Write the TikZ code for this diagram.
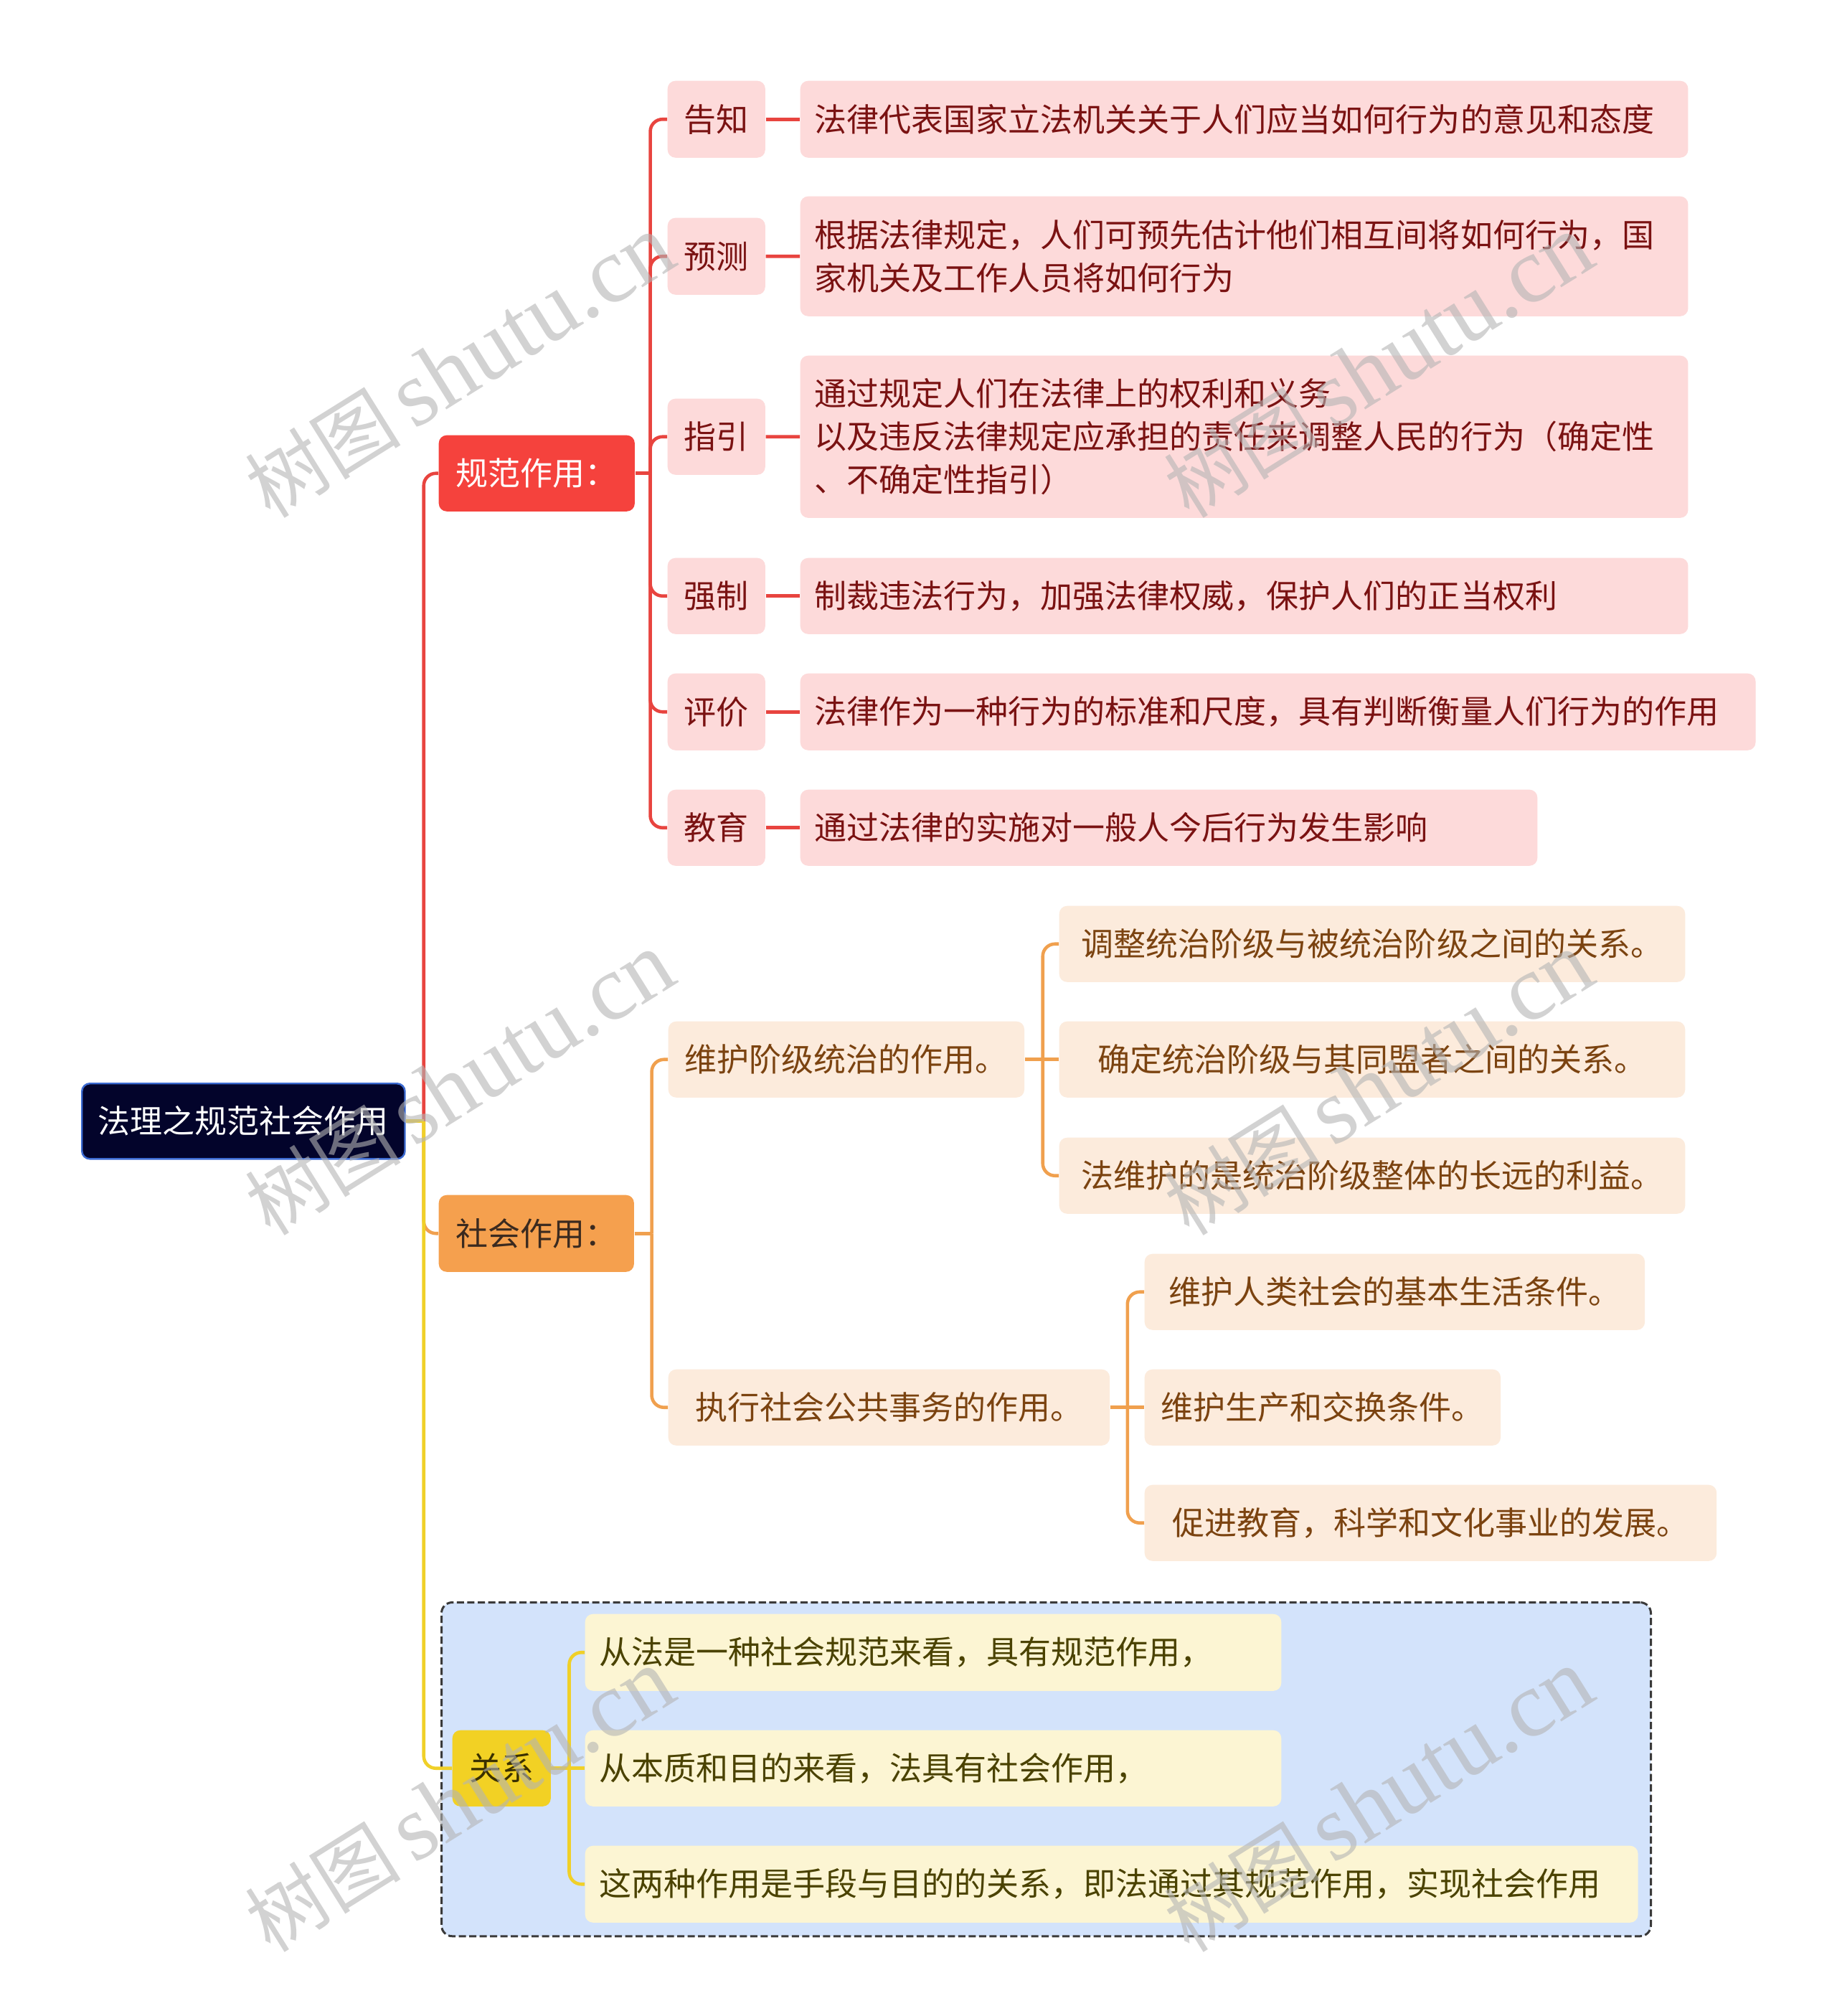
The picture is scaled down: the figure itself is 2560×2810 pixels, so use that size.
\documentclass[tikz,border=0pt]{standalone}
\usepackage{fontspec}
\setmainfont{Noto Sans CJK SC}
\newfontfamily\wmlatin{Liberation Serif}
\definecolor{rootfill}{HTML}{03042B}
\definecolor{rootdraw}{HTML}{3C6BD2}
\definecolor{redmain}{HTML}{F5423D}
\definecolor{redline}{HTML}{E8443F}
\definecolor{redleaf}{HTML}{FDDADA}
\definecolor{redtext}{HTML}{7A1212}
\definecolor{ormain}{HTML}{F5A04E}
\definecolor{orline}{HTML}{F0A04E}
\definecolor{orleaf}{HTML}{FCEBDC}
\definecolor{ortext}{HTML}{7B4310}
\definecolor{ormaintext}{HTML}{3B2A1F}
\definecolor{yemain}{HTML}{F2D124}
\definecolor{yeline}{HTML}{F0D028}
\definecolor{yeleaf}{HTML}{FCF5D3}
\definecolor{yetext}{HTML}{4A4200}
\definecolor{yemaintext}{HTML}{3A3000}
\definecolor{grpfill}{HTML}{D3E3FB}
\definecolor{grpdraw}{HTML}{3A3A3A}
\definecolor{wmgray}{HTML}{B4B4B4}
\begin{document}
\begin{tikzpicture}[x=0.01cm,y=-0.01cm,
  every node/.style={font=\fontsize{12.8pt}{17.1pt}\selectfont, inner sep=0pt, anchor=north west},
  cbox/.style={rounded corners=0.11cm, align=center},
  lbox/.style={rounded corners=0.11cm, align=left, inner xsep=0.2cm},
  rootbox/.style={cbox, fill=rootfill, draw=rootdraw, line width=0.7pt, text=white},
  redmainbox/.style={cbox, fill=redmain, text=white},
  ormainbox/.style={cbox, fill=ormain, text=ormaintext},
  yemainbox/.style={cbox, fill=yemain, text=yemaintext},
  redlab/.style={cbox, fill=redleaf, text=redtext, minimum width=1.36cm, minimum height=1.06cm},
  redcont/.style={lbox, fill=redleaf, text=redtext},
  orleafbox/.style={cbox, fill=orleaf, text=ortext, minimum height=1.06cm},
  yeleafbox/.style={lbox, fill=yeleaf, text=yetext},
  grpbox/.style={rounded corners=0.15cm, fill=grpfill, draw=grpdraw, line width=0.85pt, dash pattern=on 0.1cm off 0.045cm},
  conn/.style={line width=1.3pt},
  rl/.style={conn, draw=redline},
  ol/.style={conn, draw=orline},
  yl/.style={conn, draw=yeline},
  elbow/.style={rounded corners=0.17cm},
  wm/.style={anchor=center, text=wmgray, opacity=0.6, rotate=32}
]
\useasboundingbox (0,0) rectangle (2560,2810);
\fill[white] (0,0) rectangle (2560,2810);

% group background
\node[grpbox, minimum width=16.85cm, minimum height=4.65cm] (grp) at (614,2232) {};

% main nodes
\node[rootbox, minimum width=4.50cm, minimum height=1.05cm] (root) at (113,1509) {法理之规范社会作用};
\node[redmainbox, minimum width=2.73cm, minimum height=1.06cm] (gf) at (611,606) {规范作用：};
\node[ormainbox, minimum width=2.72cm, minimum height=1.07cm] (sh) at (611,1665) {社会作用：};
\node[yemainbox, minimum width=1.37cm, minimum height=1.06cm] (gx) at (630,2411) {关系};

% red labels
\node[redlab, minimum height=1.07cm] (l1) at (930,112) {告知};
\node[redlab, minimum height=1.07cm] (l2) at (930,303) {预测};
\node[redlab] (l3) at (930,555) {指引};
\node[redlab] (l4) at (930,777) {强制};
\node[redlab, minimum height=1.07cm] (l5) at (930,938) {评价};
\node[redlab] (l6) at (930,1100) {教育};

% red contents
\node[redcont, text width=11.97cm, minimum height=1.07cm] (c1) at (1115,112) {法律代表国家立法机关关于人们应当如何行为的意见和态度};
\node[redcont, text width=11.97cm, minimum height=1.67cm] (c2) at (1115,273) {根据法律规定，人们可预先估计他们相互间将如何行为，国\\家机关及工作人员将如何行为};
\node[redcont, text width=11.97cm, minimum height=2.26cm] (c3) at (1115,495) {通过规定人们在法律上的权利和义务\\以及违反法律规定应承担的责任来调整人民的行为（确定性\\、不确定性指引）};
\node[redcont, text width=11.97cm, minimum height=1.06cm] (c4) at (1115,777) {制裁违法行为，加强法律权威，保护人们的正当权利};
\node[redcont, text width=12.91cm, minimum height=1.07cm] (c5) at (1115,938) {法律作为一种行为的标准和尺度，具有判断衡量人们行为的作用};
\node[redcont, text width=9.87cm, minimum height=1.06cm] (c6) at (1115,1100) {通过法律的实施对一般人今后行为发生影响};

% orange
\node[orleafbox, minimum width=4.96cm] (o1) at (931,1423) {维护阶级统治的作用。};
\node[orleafbox, minimum width=6.15cm] (o2) at (931,1908) {执行社会公共事务的作用。};
\node[orleafbox, minimum width=8.72cm] (o11) at (1476,1262) {调整统治阶级与被统治阶级之间的关系。};
\node[orleafbox, minimum width=8.72cm] (o12) at (1476,1423) {确定统治阶级与其同盟者之间的关系。};
\node[orleafbox, minimum width=8.72cm] (o13) at (1476,1585) {法维护的是统治阶级整体的长远的利益。};
\node[orleafbox, minimum width=6.97cm] (o21) at (1595,1747) {维护人类社会的基本生活条件。};
\node[orleafbox, minimum width=4.96cm] (o22) at (1595,1908) {维护生产和交换条件。};
\node[orleafbox, minimum width=7.97cm] (o23) at (1595,2069) {促进教育，科学和文化事业的发展。};

% yellow
\node[yeleafbox, text width=9.30cm, minimum height=1.07cm] (y1) at (815,2249) {从法是一种社会规范来看，具有规范作用，};
\node[yeleafbox, text width=9.30cm, minimum height=1.06cm] (y2) at (815,2411) {从本质和目的来看，法具有社会作用，};
\node[yeleafbox, text width=14.27cm, minimum height=1.07cm] (y3) at (815,2572) {这两种作用是手段与目的的关系，即法通过其规范作用，实现社会作用};

% junctions
\coordinate (rj) at ([xshift=0.25cm]root.east);
\coordinate (jgf) at ([xshift=0.21cm]gf.east);
\coordinate (jsh) at ([xshift=0.24cm]sh.east);
\coordinate (jo1) at ([xshift=0.25cm]o1.east);
\coordinate (jo2) at ([xshift=0.24cm]o2.east);
\coordinate (jgx) at ([xshift=0.25cm]gx.east);

% root branches
\draw[ol, elbow] (rj) |- (sh.west);
\draw[rl, elbow] (rj) |- (gf.west);
\draw[yl, elbow] (rj) |- (gx.west);
\draw[yl] (root.east) -- (rj);

% red branches
\draw[rl] (gf.east) -- (jgf);
\foreach \n in {l1,l2,l3,l4,l5,l6} {\draw[rl, elbow] (jgf) |- (\n.west);}
\draw[rl] (l1.east) -- (c1.west);
\draw[rl] (l2.east) -- (c2.west);
\draw[rl] (l3.east) -- (c3.west);
\draw[rl] (l4.east) -- (c4.west);
\draw[rl] (l5.east) -- (c5.west);
\draw[rl] (l6.east) -- (c6.west);

% orange branches
\draw[ol] (sh.east) -- (jsh);
\draw[ol, elbow] (jsh) |- (o1.west);
\draw[ol, elbow] (jsh) |- (o2.west);
\draw[ol] (o1.east) -- (jo1);
\draw[ol, elbow] (jo1) |- (o11.west);
\draw[ol] (jo1) -- (o12.west);
\draw[ol, elbow] (jo1) |- (o13.west);
\draw[ol] (o2.east) -- (jo2);
\draw[ol, elbow] (jo2) |- (o21.west);
\draw[ol] (jo2) -- (o22.west);
\draw[ol, elbow] (jo2) |- (o23.west);

% yellow branches
\draw[yl] (gx.east) -- (jgx);
\draw[yl, elbow] (jgx) |- (y1.west);
\draw[yl] (jgx) -- (y2.west);
\draw[yl, elbow] (jgx) |- (y3.west);

% watermarks
\foreach \i/\px/\py in {1/641/511, 2/1922/511, 3/641/1511, 4/1922/1511, 5/641/2510, 6/1922/2510} {
  \node[wm] (wm\i) at (\px,\py) {\fontsize{31pt}{31pt}\selectfont 树图\,{\wmlatin\fontsize{37pt}{37pt}\selectfont shutu.cn}};
}
\end{tikzpicture}
\end{document}
